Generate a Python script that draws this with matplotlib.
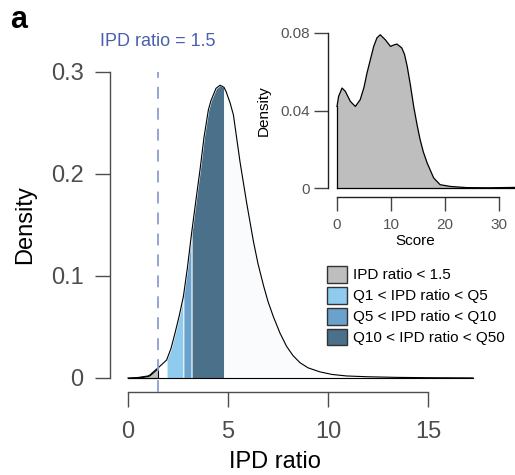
import matplotlib
matplotlib.use("Agg")
import matplotlib.pyplot as plt
from matplotlib.patches import Patch
import numpy as np

plt.rcParams['font.family'] = ['Liberation Sans', 'DejaVu Sans']

# main density of IPD ratio
ipd_x = [0, 0.5, 1.0, 1.1, 1.43, 1.5, 1.93, 2.15, 2.35, 2.55, 2.77, 2.97, 3.18,
         3.4, 3.6, 3.8, 4.02, 4.15, 4.4, 4.6, 4.75, 4.8, 4.9, 5.1, 5.27, 5.6,
         5.93, 6.27, 6.5, 6.77, 7.0, 7.27, 7.6, 7.93, 8.25, 8.6, 9.0, 9.6,
         10.2, 10.93, 12.0, 13.5, 15.0, 17.25]
ipd_dens = [0, 0.0005, 0.002, 0.003, 0.0088, 0.0098, 0.0176, 0.029, 0.044, 0.060,
            0.080, 0.108, 0.142, 0.175, 0.204, 0.236, 0.263, 0.272, 0.284, 0.287,
            0.2855, 0.285, 0.281, 0.270, 0.258, 0.212, 0.172, 0.134, 0.112, 0.091,
            0.075, 0.060, 0.044, 0.031, 0.022, 0.015, 0.010, 0.006, 0.0035, 0.002,
            0.0012, 0.0006, 0.0003, 0.0001]

threshold = 1.5
bands = [0, 1.5, 1.93, 2.77, 3.18, 4.8, 17.25]
band_colors = ['#bebebe', None, '#8ecbef', '#6aa2cb', '#4b7089', '#f9fbfc']
legend_labels = ['IPD ratio < 1.5', 'Q1 < IPD ratio < Q5',
                 'Q5 < IPD ratio < Q10', 'Q10 < IPD ratio < Q50']

# inset: score density
score_x = [0, 0.3, 0.93, 1.54, 2.47, 3.4, 4.3, 5.0, 5.55, 6.2, 6.8, 7.4, 8.0,
           8.95, 9.9, 10.5, 11.1, 12.0, 12.5, 13.0, 13.6, 14.2, 14.8, 15.4, 16.0,
           16.7, 17.9, 19.1, 21, 24, 28, 33]
score_dens = [0.0421, 0.0473, 0.0516, 0.0499, 0.0447, 0.0421, 0.0456, 0.052, 0.0593,
              0.0665, 0.0731, 0.0775, 0.0791, 0.0765, 0.0731, 0.0738, 0.0743, 0.0723,
              0.069, 0.0628, 0.053, 0.0421, 0.033, 0.0249, 0.0185, 0.0129, 0.0052,
              0.0017, 0.0008, 0.0002, 0.0001, 0.0003]

W, H = 515, 475
fig = plt.figure(figsize=(W / 100, H / 100), dpi=100)

def px_axes(l, r, t, b):
    return fig.add_axes([l / W, 1 - b / H, (r - l) / W, (b - t) / H])

axcol = '#4d4d4d'
labcol = '#4d4d4d'

# ---- main panel
ax = px_axes(110, 478, 60, 392)
ax.set_xlim(-0.9, 17.5)
ax.set_ylim(-14 / 1020, 318 / 1020)

x = np.array(ipd_x)
y = np.array(ipd_dens)
for i in range(len(bands) - 1):
    c = band_colors[i]
    if c is None:
        continue
    m = (x >= bands[i]) & (x <= bands[i + 1])
    if i == 0:
        ax.fill_between(x[m], 0, y[m], facecolor=c, edgecolor='black', lw=0.8, zorder=2)
    else:
        ax.fill_between(x[m], 0, y[m], facecolor=c, edgecolor='#f4f8fa', lw=0.7, zorder=2)
ax.plot(x, y, color='black', lw=0.8, zorder=3)
ax.plot([x[0], x[-1]], [0, 0], color='black', lw=0.8, zorder=3)

ax.vlines(threshold, ax.get_ylim()[0], 0.3, color='#8d9dd3', lw=1.3,
          linestyles=(0, (6.6, 5)), zorder=4)

for s in ['top', 'right']:
    ax.spines[s].set_visible(False)
ax.spines['left'].set_bounds(0, 0.3)
ax.spines['bottom'].set_bounds(0, 15)
for s in ['left', 'bottom']:
    ax.spines[s].set_color(axcol)
    ax.spines[s].set_linewidth(1.0)
ax.set_xticks([0, 5, 10, 15])
ax.set_yticks([0, 0.1, 0.2, 0.3])
ax.set_yticklabels(['0', '0.1', '0.2', '0.3'])
ax.tick_params(axis='both', length=11, width=1.0, color=axcol, labelcolor=labcol,
               labelsize=17)
ax.tick_params(axis='y', pad=8)
ax.tick_params(axis='x', pad=10)
ax.patch.set_alpha(0)

fig.text(275 / W, 1 - 462 / H, 'IPD ratio', fontsize=17, ha='center', va='center')
fig.text(25 / W, 1 - 225 / H, 'Density', fontsize=17, ha='center', va='center',
         rotation=90)
fig.text(158 / W, 1 - 41 / H, 'IPD ratio = 1.5', fontsize=13, color='#4a5fae',
         ha='center', va='center')
fig.text(10 / W, 1 - 20 / H, 'a', fontsize=22, fontweight='bold', ha='left',
         va='center')

handles = [Patch(facecolor=c, edgecolor='#333333', lw=1.0)
           for c in [band_colors[0]] + band_colors[2:5]]
fig.legend(handles, legend_labels, loc='upper left',
           bbox_to_anchor=(327 / W, 1 - 266 / H), frameon=False, fontsize=11,
           handlelength=1.3, handleheight=1.3, handletextpad=0.4,
           labelspacing=0.28, borderpad=0, borderaxespad=0)

# ---- inset
ai = px_axes(328, 515, 26, 197)
ai.set_xlim(-9 / 5.4, 178 / 5.4)
ai.set_ylim(-9 / 1937.5, 162 / 1937.5)
ai.fill_between(score_x, 0, score_dens, facecolor='#bebebe', edgecolor='none')
ai.plot(score_x, score_dens, color='black', lw=0.9)
ai.plot([score_x[0], score_x[0]], [0, score_dens[0]], color='black', lw=0.9)
ai.plot([score_x[0], score_x[-1]], [0, 0], color='black', lw=0.9)
for s in ['top', 'right']:
    ai.spines[s].set_visible(False)
ai.spines['left'].set_bounds(0, 0.08)
ai.spines['bottom'].set_bounds(0, 30)
for s in ['left', 'bottom']:
    ai.spines[s].set_color('#222222')
    ai.spines[s].set_linewidth(1.0)
ai.set_xticks([0, 10, 20, 30])
ai.set_yticks([0, 0.04, 0.08])
ai.set_yticklabels(['0', '0.04', '0.08'])
ai.tick_params(axis='both', length=10, width=1.0, color='#444444',
               labelcolor='#555555', labelsize=11)
ai.tick_params(axis='y', pad=3)
ai.tick_params(axis='x', pad=5)
ai.patch.set_alpha(0)
fig.text(415 / W, 1 - 241 / H, 'Score', fontsize=11, ha='center', va='center')
fig.text(264 / W, 1 - 111 / H, 'Density', fontsize=11, ha='center', va='center',
         rotation=90)

fig.savefig('out.png', dpi=100)
